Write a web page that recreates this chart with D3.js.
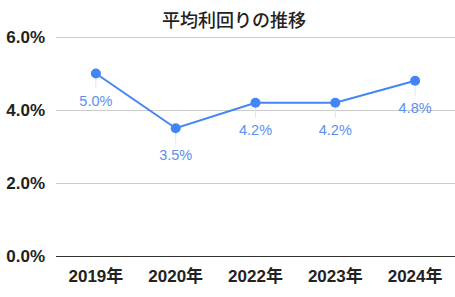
<!DOCTYPE html>
<html>
<head>
<meta charset="UTF-8">
<script src="https://cdn.jsdelivr.net/npm/d3@7"></script>
<style>
  body { margin: 0; background: #fff; }
  svg { font-family: "Liberation Sans", Arial, "Noto Sans CJK JP", sans-serif; }
  .ytick { font-size: 17px; font-weight: bold; fill: #222; }
  .xtick { font-size: 17px; font-weight: bold; fill: #222; }
</style>
</head>
<body>
<div id="chart"></div>
<script>
  var years = ["2019年", "2020年", "2022年", "2023年", "2024年"];
  var yields = [5.0, 3.5, 4.2, 4.2, 4.8];
  var yTicks = [0, 2, 4, 6];
  var title = "平均利回りの推移";

  var width = 455, height = 297;
  var plotLeft = 56, plotRight = 455, plotTop = 37, plotBottom = 256;

  var x = d3.scaleBand().domain(years).range([plotLeft, plotRight]);
  var y = d3.scaleLinear().domain([0, 6]).range([plotBottom, plotTop]);

  var svg = d3.select("#chart").append("svg")
    .attr("width", width).attr("height", height);

  svg.append("text")
    .attr("x", 234).attr("y", 27)
    .attr("text-anchor", "middle")
    .style("font-family", "'Noto Sans CJK JP', sans-serif")
    .style("font-size", "18px").style("font-weight", "500").style("fill", "#222")
    .text(title);

  /* grid + y labels */
  svg.append("g").selectAll("line").data(yTicks).enter().append("line")
    .attr("x1", plotLeft).attr("x2", plotRight)
    .attr("y1", function(d) { return Math.round(y(d)) + 0.5; })
    .attr("y2", function(d) { return Math.round(y(d)) + 0.5; })
    .style("shape-rendering", "crispEdges")
    .style("stroke", function(d) { return d === 0 ? "#333" : "#ccc"; });

  svg.selectAll(".ytick").data(yTicks).enter().append("text")
    .attr("class", "ytick")
    .attr("x", 45).attr("y", function(d) { return y(d) + 6; })
    .attr("text-anchor", "end")
    .text(function(d) { return d.toFixed(1) + "%"; });

  svg.selectAll(".xtick").data(years).enter().append("text")
    .attr("class", "xtick")
    .attr("x", function(d) { return x(d) + x.bandwidth() / 2; })
    .attr("y", 282)
    .attr("text-anchor", "middle")
    .text(function(d) { return d; });

  var pts = years.map(function(d, i) { return { year: d, v: yields[i] }; });
  var cx = function(d) { return x(d.year) + x.bandwidth() / 2; };

  /* leader ticks under points */
  svg.selectAll(".lead").data(pts).enter().append("line")
    .attr("x1", cx).attr("x2", cx)
    .attr("y1", function(d) { return y(d.v) + 5; })
    .attr("y2", function(d) { return y(d.v) + 15; })
    .style("stroke", "#e4e4e4").style("stroke-width", 1);

  var line = d3.line().x(cx).y(function(d) { return y(d.v); });
  svg.append("path").datum(pts)
    .attr("d", line)
    .style("fill", "none").style("stroke", "#4285f4").style("stroke-width", 2);

  svg.selectAll(".dot").data(pts).enter().append("circle")
    .attr("cx", cx).attr("cy", function(d) { return y(d.v); })
    .attr("r", 5).style("fill", "#4285f4");

  svg.selectAll(".lbl").data(pts).enter().append("text")
    .attr("x", cx).attr("y", function(d) { return y(d.v) + 32; })
    .attr("text-anchor", "middle")
    .style("font-size", "14.5px").style("fill", "#5b8ff0")
    .text(function(d) { return d.v.toFixed(1) + "%"; });
</script>
</body>
</html>
